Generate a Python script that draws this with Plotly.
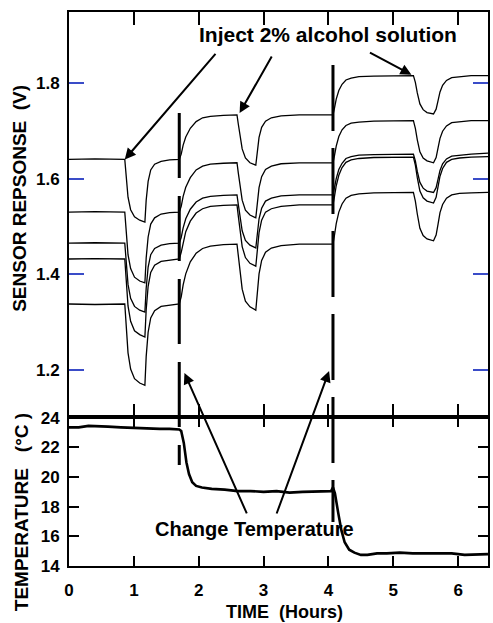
import plotly.graph_objects as go

# ---------------- data ----------------
time_h = [0.00, 0.40, 0.86, 0.88, 0.91, 0.95, 1.01, 1.09, 1.17, 1.19, 1.22, 1.26, 1.32, 1.42, 1.55,
          1.70, 1.73, 1.76, 1.80, 1.87, 1.96, 2.06, 2.18, 2.38,
          2.59, 2.61, 2.64, 2.67, 2.72, 2.79, 2.88, 2.90, 2.93, 2.97, 3.03, 3.12, 3.27, 3.55, 4.07,
          4.09, 4.12, 4.16, 4.21, 4.27, 4.35, 4.47, 4.70, 5.31,
          5.34, 5.37, 5.41, 5.46, 5.52, 5.62, 5.66, 5.69, 5.72, 5.76, 5.82, 5.90, 6.02, 6.20, 6.46]

sensor_1 = [1.640, 1.641, 1.640, 1.601, 1.561, 1.535, 1.520, 1.513, 1.509, 1.555, 1.594, 1.618, 1.630, 1.636, 1.639,
            1.640, 1.651, 1.670, 1.687, 1.705, 1.719, 1.727, 1.730, 1.732,
            1.733, 1.714, 1.686, 1.662, 1.643, 1.633, 1.628, 1.657, 1.686, 1.707, 1.720, 1.727, 1.731, 1.733, 1.733,
            1.745, 1.766, 1.784, 1.797, 1.806, 1.810, 1.813, 1.814, 1.815,
            1.801, 1.779, 1.756, 1.744, 1.738, 1.735, 1.745, 1.763, 1.781, 1.795, 1.805, 1.811, 1.813, 1.815, 1.815]

sensor_2 = [1.530, 1.531, 1.530, 1.486, 1.441, 1.412, 1.394, 1.386, 1.382, 1.434, 1.478, 1.505, 1.518, 1.526, 1.529,
            1.530, 1.542, 1.563, 1.582, 1.602, 1.618, 1.626, 1.630, 1.632,
            1.633, 1.612, 1.581, 1.555, 1.534, 1.524, 1.518, 1.550, 1.581, 1.604, 1.619, 1.626, 1.631, 1.633, 1.633,
            1.646, 1.668, 1.688, 1.702, 1.711, 1.716, 1.718, 1.720, 1.721,
            1.705, 1.681, 1.656, 1.643, 1.637, 1.633, 1.644, 1.664, 1.684, 1.699, 1.710, 1.717, 1.719, 1.721, 1.721]

sensor_3 = [1.465, 1.466, 1.465, 1.422, 1.379, 1.350, 1.333, 1.325, 1.321, 1.371, 1.415, 1.441, 1.454, 1.461, 1.464,
            1.465, 1.477, 1.497, 1.516, 1.536, 1.551, 1.559, 1.563, 1.565,
            1.566, 1.546, 1.516, 1.491, 1.471, 1.461, 1.455, 1.486, 1.516, 1.538, 1.553, 1.559, 1.564, 1.566, 1.566,
            1.579, 1.600, 1.619, 1.632, 1.642, 1.646, 1.649, 1.650, 1.651,
            1.637, 1.615, 1.592, 1.580, 1.574, 1.571, 1.581, 1.599, 1.617, 1.631, 1.641, 1.647, 1.649, 1.651, 1.653]

sensor_4 = [1.432, 1.433, 1.432, 1.383, 1.334, 1.302, 1.282, 1.274, 1.269, 1.326, 1.375, 1.404, 1.419, 1.427, 1.430,
            1.432, 1.446, 1.468, 1.489, 1.511, 1.528, 1.537, 1.542, 1.544,
            1.545, 1.522, 1.487, 1.458, 1.435, 1.423, 1.417, 1.453, 1.487, 1.513, 1.530, 1.537, 1.542, 1.545, 1.545,
            1.560, 1.585, 1.607, 1.623, 1.634, 1.639, 1.642, 1.644, 1.645,
            1.628, 1.602, 1.574, 1.560, 1.553, 1.549, 1.561, 1.583, 1.605, 1.621, 1.634, 1.640, 1.643, 1.645, 1.646]

sensor_5 = [1.338, 1.337, 1.338, 1.287, 1.236, 1.202, 1.182, 1.173, 1.168, 1.228, 1.279, 1.309, 1.324, 1.333, 1.336,
            1.338, 1.353, 1.378, 1.401, 1.426, 1.444, 1.454, 1.459, 1.462,
            1.463, 1.438, 1.401, 1.369, 1.344, 1.332, 1.325, 1.364, 1.401, 1.429, 1.446, 1.455, 1.460, 1.463, 1.463,
            1.479, 1.506, 1.530, 1.547, 1.559, 1.565, 1.568, 1.570, 1.571,
            1.553, 1.526, 1.496, 1.481, 1.474, 1.470, 1.482, 1.505, 1.529, 1.546, 1.559, 1.566, 1.569, 1.570, 1.571]

temp_time = [0.00, 0.15, 0.30, 0.45, 0.60, 0.80, 1.00, 1.20, 1.40, 1.55,
             1.70, 1.73, 1.77, 1.81, 1.85, 1.90, 1.96, 2.05, 2.20, 2.40,
             2.60, 2.80, 3.00, 3.20, 3.40, 3.60, 3.80, 3.95, 4.04, 4.07,
             4.10, 4.15, 4.20, 4.25, 4.32, 4.40, 4.50, 4.60, 4.75, 4.90,
             5.10, 5.30, 5.50, 5.70, 5.90, 6.10, 6.30, 6.46]
temp_c = [23.35, 23.35, 23.45, 23.40, 23.40, 23.35, 23.30, 23.30, 23.25, 23.25,
          23.20, 23.10, 22.30, 21.00, 20.20, 19.65, 19.40, 19.30, 19.20, 19.15,
          19.05, 19.05, 19.00, 19.05, 18.95, 19.00, 19.00, 19.00, 19.05, 19.30,
          18.90, 17.60, 16.40, 15.60, 15.10, 14.90, 14.75, 14.75, 14.85, 14.85,
          14.90, 14.85, 14.85, 14.80, 14.85, 14.75, 14.80, 14.80]

sensor_ticks = [1.2, 1.4, 1.6, 1.8]
sensor_tick_labels = ["1.2", "1.4", "1.6", "1.8"]
temp_ticks = [14, 16, 18, 20, 22, 24]
time_ticks = [0, 1, 2, 3, 4, 5, 6]
temp_change_times = [1.70, 4.07]

# ---------------- figure ----------------
FONT = "Liberation Sans"
BLUE = "#3a4cc8"

fig = go.Figure()
for s in [sensor_1, sensor_2, sensor_3, sensor_4, sensor_5]:
    fig.add_trace(go.Scatter(x=time_h, y=s, mode="lines",
                             line=dict(color="black", width=1.3),
                             xaxis="x", yaxis="y", hoverinfo="skip"))
fig.add_trace(go.Scatter(x=temp_time, y=temp_c, mode="lines",
                         line=dict(color="black", width=2.6),
                         xaxis="x2", yaxis="y2", hoverinfo="skip"))

tickfont = dict(family=FONT, size=17, color="black", weight="bold")
split = 0.269

fig.update_layout(
    width=493, height=623,
    margin=dict(l=69, r=3, t=12, b=57),
    showlegend=False,
    plot_bgcolor="white", paper_bgcolor="white",
    xaxis=dict(domain=[0, 1], anchor="y", range=[0, 6.46], tickvals=time_ticks,
               ticks="inside", ticklen=13, tickwidth=2, tickcolor="black",
               showticklabels=False, showline=True, linewidth=2, linecolor="black",
               mirror="ticks", showgrid=False, zeroline=False),
    yaxis=dict(domain=[split, 1], anchor="x", range=[1.102, 1.948],
               tickvals=sensor_ticks, ticktext=sensor_tick_labels,
               ticks="inside", ticklen=15, tickwidth=2, tickcolor=BLUE,
               tickfont=tickfont, ticklabelstandoff=4,
               showline=True, linewidth=2, linecolor="black",
               mirror="ticks", showgrid=False, zeroline=False),
    xaxis2=dict(domain=[0, 1], anchor="y2", range=[0, 6.46], tickvals=time_ticks,
                ticks="inside", ticklen=10, tickwidth=2, tickcolor="black",
                tickfont=tickfont, ticklabelstandoff=8,
                showline=True, linewidth=2, linecolor="black",
                mirror="ticks", showgrid=False, zeroline=False),
    yaxis2=dict(domain=[0, split], anchor="x2", range=[14, 24.05], tickvals=temp_ticks,
                ticks="inside", ticklen=10, tickwidth=2, tickcolor="black",
                tickfont=tickfont, ticklabelstandoff=4,
                showline=True, linewidth=2, linecolor="black",
                mirror="ticks", showgrid=False, zeroline=False),
)

# thick dashed vertical lines marking the temperature changes
fig.add_shape(type="line", xref="x", yref="paper", x0=temp_change_times[0], x1=temp_change_times[0],
              y0=0.8177, y1=0.1823, line=dict(color="black", width=3, dash="65px,18px"))
fig.add_shape(type="line", xref="x", yref="paper", x0=temp_change_times[1], x1=temp_change_times[1],
              y0=0.9043, y1=0.0794, line=dict(color="black", width=3, dash="66px,17px"))

# axis titles
title_font = dict(family=FONT, size=18, color="black", weight="bold")
fig.add_annotation(text="SENSOR REPSONSE  (V)", xref="paper", yref="paper", x=-0.12, y=0.664,
                   textangle=-90, showarrow=False, font=dict(family=FONT, size=19, color="black", weight="bold"),
                   xanchor="center", yanchor="middle")
fig.add_annotation(text="TEMPERATURE   (°C )", xref="paper", yref="paper", x=-0.1116, y=0.0975,
                   textangle=-90, showarrow=False, font=dict(family=FONT, size=19, color="black", weight="bold"),
                   xanchor="center", yanchor="middle")
fig.add_annotation(text="TIME  (Hours)", xref="paper", yref="paper", x=0.5154, y=-0.083,
                   showarrow=False, font=title_font, xanchor="center", yanchor="middle")

# callouts
fig.add_annotation(text="Inject 2% alcohol solution", xref="paper", yref="paper", x=0.6176, y=0.9585,
                   showarrow=False, font=dict(family=FONT, size=21, color="black", weight="bold"),
                   xanchor="center", yanchor="middle")
fig.add_annotation(text="Change Temperature", xref="paper", yref="paper", x=0.4418, y=0.0668,
                   showarrow=False, font=dict(family=FONT, size=20, color="black", weight="bold"),
                   xanchor="center", yanchor="middle")

arrow = dict(text="", showarrow=True, arrowhead=2, arrowsize=1.1, arrowwidth=2,
             arrowcolor="black", axref="pixel", ayref="pixel", standoff=0, startstandoff=0)
fig.add_annotation(x=0.86, y=1.640, xref="x", yref="y", ax=92, ay=-107, **arrow)
fig.add_annotation(x=2.63, y=1.737, xref="x", yref="y", ax=33, ay=-58, **arrow)
fig.add_annotation(x=5.28, y=1.817, xref="x", yref="y", ax=-43, ay=-23, **arrow)
fig.add_annotation(x=1.78, y=1.194, xref="x", yref="y", ax=63, ay=142, **arrow)
fig.add_annotation(x=4.01, y=1.198, xref="x", yref="y", ax=-53, ay=144, **arrow)

# remove the default page margin so the figure sits at the window's top-left corner
fig.write_html("out.html",
               config={"displayModeBar": False},
               post_script="document.body.style.margin='0';document.body.style.overflow='hidden';")
